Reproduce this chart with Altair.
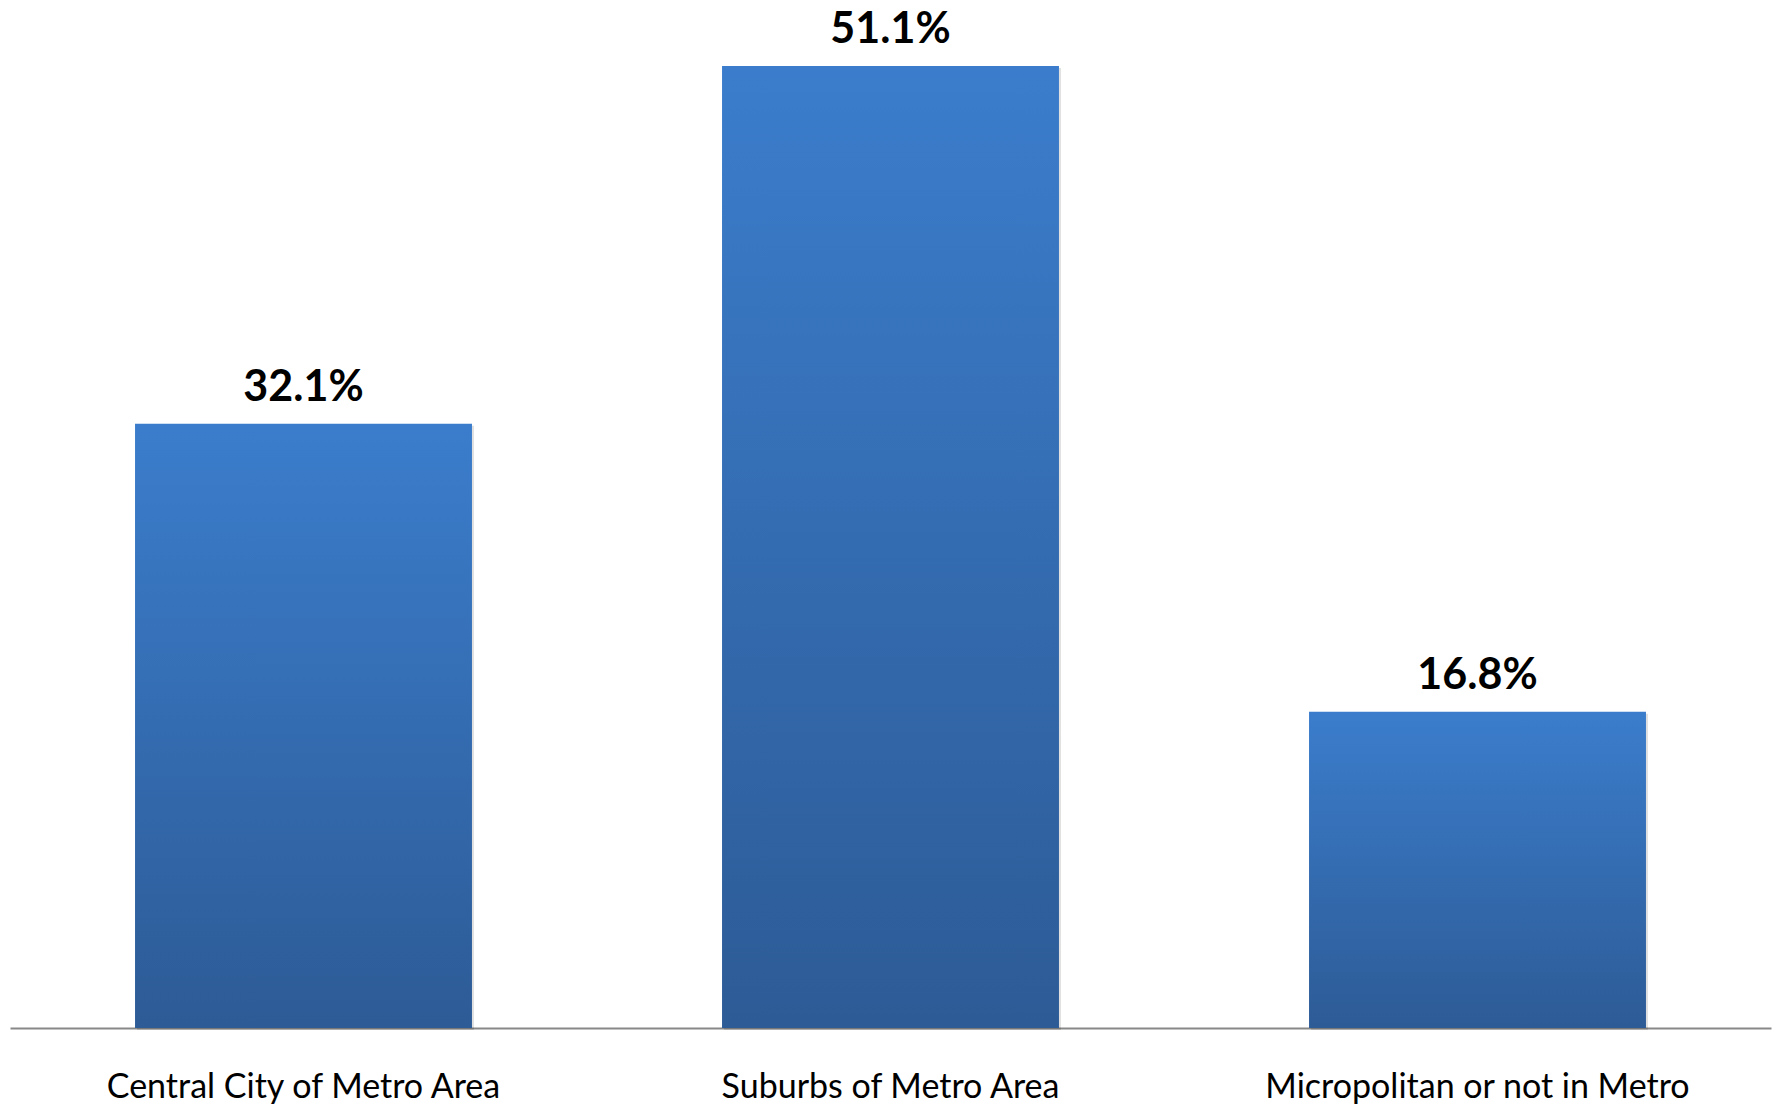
import altair as alt
import pandas as pd

categories = ["Central City of Metro Area", "Suburbs of Metro Area", "Micropolitan or not in Metro"]
values = [32.1, 51.1, 16.8]
labels = ["32.1%", "51.1%", "16.8%"]

df = pd.DataFrame({"cat": categories, "val": values, "lab": labels})

xenc = alt.X("cat:N", sort=categories,
             scale=alt.Scale(paddingInner=0.426, paddingOuter=0.213),
             axis=alt.Axis(title=None, labelAngle=0, ticks=False, domain=True,
                           domainColor="#888888", domainWidth=2, labelLimit=0,
                           labelFont="Lato", labelFontSize=34, labelColor="#000000",
                           labelBaseline="alphabetic", labelPadding=69, grid=False))
yenc = alt.Y("val:Q", scale=alt.Scale(domain=[0, 54.6], nice=False), axis=None)

base = alt.Chart(df)

shadow = base.mark_bar(color="#000000", opacity=0.12, xOffset=2, yOffset=2).encode(x=xenc, y=yenc)

bars = base.mark_bar(
    color=alt.Gradient(
        gradient="linear", x1=0, y1=0, x2=0, y2=1,
        stops=[alt.GradientStop(color="#3B7DCC", offset=0),
               alt.GradientStop(color="#2D5B96", offset=1)]
    )
).encode(x=xenc, y=yenc)

text = base.mark_text(font="Lato", fontWeight="bold", fontSize=43, color="#000000",
                      baseline="alphabetic", dy=-23).encode(x=xenc, y=yenc, text="lab:N")

chart = alt.layer(shadow, bars, text).properties(
    width=1761, height=1028,
    autosize=alt.AutoSizeParams(type="none"),
    padding={"left": 10, "top": 0, "right": 5, "bottom": 80},
    background="#ffffff",
).configure_view(stroke=None, strokeWidth=0)

chart.save("out.html", embed_options={"renderer": "svg", "actions": False})
